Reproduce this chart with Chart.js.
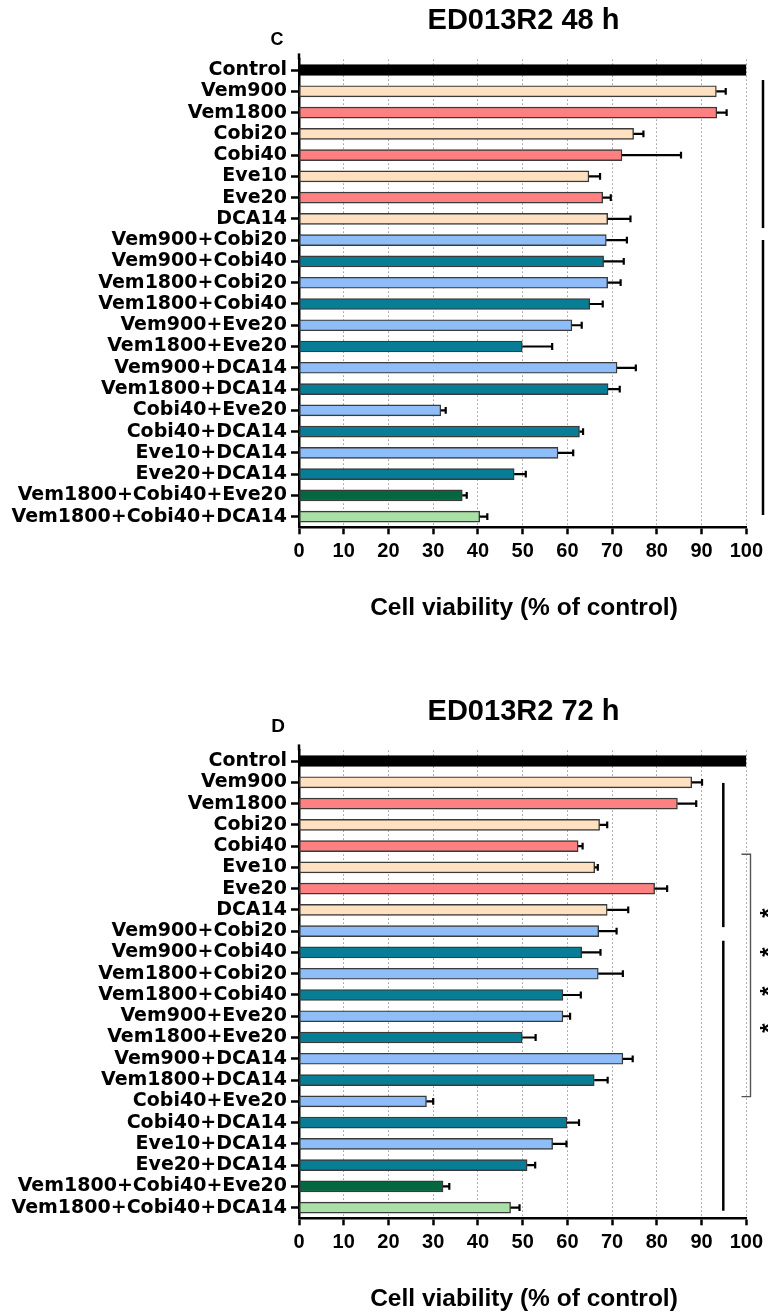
<!DOCTYPE html>
<html><head><meta charset="utf-8">
<script src="https://cdn.jsdelivr.net/npm/chart.js@4.4.1/dist/chart.umd.min.js"></script>
<style>
html,body{margin:0;padding:0;background:#fff;overflow:hidden;}
#wrap{position:relative;width:768px;height:1315px;overflow:hidden;background:#fff;}
canvas{position:absolute;left:0;}
</style></head><body>
<div id="wrap">
<canvas id="c1" width="768" height="691" style="top:0px"></canvas>
<canvas id="c2" width="768" height="691" style="top:691px"></canvas>
</div>
<script>
const categories = ["Control","Vem900","Vem1800","Cobi20","Cobi40","Eve10","Eve20","DCA14",
  "Vem900+Cobi20","Vem900+Cobi40","Vem1800+Cobi20","Vem1800+Cobi40","Vem900+Eve20","Vem1800+Eve20",
  "Vem900+DCA14","Vem1800+DCA14","Cobi40+Eve20","Cobi40+DCA14","Eve10+DCA14","Eve20+DCA14",
  "Vem1800+Cobi40+Eve20","Vem1800+Cobi40+DCA14"];
const values48 = [100, 93.3, 93.4, 74.8, 72.2, 64.8, 67.9, 69.0, 68.7, 68.1, 69.0, 65.0, 61.0, 49.9, 71.1, 69.1, 31.7, 62.7, 57.9, 48.1, 36.5, 40.4];
const errors48 = [0, 2.1, 2.2, 2.2, 13.2, 2.5, 1.8, 5.1, 4.6, 4.5, 2.9, 2.9, 2.2, 6.7, 4.2, 2.6, 1.1, 0.8, 3.4, 2.6, 1.0, 1.7];
const values72 = [100, 87.8, 84.6, 67.2, 62.4, 66.1, 79.5, 68.9, 67.0, 63.2, 66.9, 59.0, 59.0, 49.9, 72.4, 66.0, 28.5, 59.9, 56.7, 51.0, 32.2, 47.3];
const errors72 = [0, 2.3, 4.2, 1.7, 1.0, 0.7, 2.8, 4.7, 4.0, 4.2, 5.5, 4.0, 1.6, 3.0, 2.2, 3.0, 1.5, 2.7, 3.1, 1.8, 1.4, 2.0];
const xMin = 0, xMax = 100, xStep = 10;

const PEACH = '#FFE0C0', SALMON = '#FF8080', LBLUE = '#8EBDF7', TEAL = '#077D96', DGREEN = '#03673F', LGREEN = '#ABDFA8';
const barColors = ['#000000', PEACH, SALMON, PEACH, SALMON, PEACH, SALMON, PEACH,
  LBLUE, TEAL, LBLUE, TEAL, LBLUE, TEAL, LBLUE, TEAL, LBLUE, TEAL, LBLUE, TEAL, DGREEN, LGREEN];
const barBorders = barColors.map((c,i)=> i===0 ? '#000000' : '#3a3a3a');

const overlay = {
  id: 'overlay',
  afterDatasetsDraw(chart, args, opts) {
    const ctx = chart.ctx, xs = chart.scales.x;
    const meta = chart.getDatasetMeta(0);
    const vals = chart.data.datasets[0].data;
    ctx.save();
    ctx.strokeStyle = '#000'; ctx.lineWidth = 2.2;
    meta.data.forEach((bar, i) => {
      const e = opts.errors[i];
      if (!e) return;
      const x1 = xs.getPixelForValue(vals[i] + e);
      ctx.beginPath();
      ctx.moveTo(bar.x, bar.y); ctx.lineTo(x1, bar.y);
      ctx.moveTo(x1, bar.y - 3.4); ctx.lineTo(x1, bar.y + 3.4);
      ctx.stroke();
    });
    ctx.restore();
  },
  afterDraw(chart, args, opts) {
    const ctx = chart.ctx, ys = chart.scales.y, ca = chart.chartArea;
    ctx.save();
    ctx.strokeStyle = '#000'; ctx.lineWidth = 2.5;
    ctx.beginPath(); ctx.moveTo(ca.left, ca.top - 6); ctx.lineTo(ca.left, ca.top); ctx.stroke();
    ctx.fillStyle = '#000'; ctx.textAlign = 'center'; ctx.textBaseline = 'middle';
    ctx.font = 'bold 29px "Liberation Sans", Arial, sans-serif';
    ctx.fillText(opts.title, 523.5, 20.5);
    ctx.font = 'bold ' + opts.letterSize + 'px "Liberation Sans", Arial, sans-serif';
    ctx.fillText(opts.letter, opts.letterPos[0], opts.letterPos[1]);
    ctx.font = 'bold 24.5px "Liberation Sans", Arial, sans-serif';
    ctx.fillText('Cell viability (% of control)', 524, ca.bottom + 81);
    ctx.strokeStyle = '#000'; ctx.lineWidth = 2.5;
    opts.sigLines.forEach(l => {
      ctx.beginPath();
      ctx.moveTo(l.x, ys.getPixelForValue(l.from));
      ctx.lineTo(l.x, ys.getPixelForValue(l.to));
      ctx.stroke();
    });
    if (opts.bracket) {
      const b = opts.bracket;
      const y0 = ys.getPixelForValue(b.from), y1 = ys.getPixelForValue(b.to);
      ctx.strokeStyle = '#555'; ctx.lineWidth = 1.4;
      ctx.beginPath();
      ctx.moveTo(b.x - 9, y0); ctx.lineTo(b.x, y0); ctx.lineTo(b.x, y1); ctx.lineTo(b.x - 9, y1);
      ctx.stroke();
    }
    if (opts.stars) {
      ctx.font = 'bold 24px "Liberation Sans", Arial, sans-serif';
      opts.stars.pos.forEach(f => {
        const y = ys.getPixelForValue(f);
        ctx.save(); ctx.translate(opts.stars.x, y); ctx.rotate(-Math.PI/2);
        ctx.fillText('*', 0, 4); ctx.restore();
      });
    }
    ctx.restore();
  }
};

function makeChart(id, values, errors, ov) {
  return new Chart(document.getElementById(id), {
    type: 'bar',
    data: {
      labels: categories,
      datasets: [{
        data: values,
        backgroundColor: barColors,
        borderColor: barBorders,
        borderWidth: 1.4,
        borderSkipped: false,
        barThickness: 11
      }]
    },
    plugins: [overlay],
    options: {
      indexAxis: 'y',
      responsive: false,
      animation: false,
      events: [],
      layout: { padding: { left: 0, top: 59.4, right: 19, bottom: 691 - 527.3 - 60 } },
      plugins: {
        legend: { display: false },
        tooltip: { enabled: false },
        title: { display: false },
        overlay: Object.assign({ errors: errors }, ov)
      },
      scales: {
        x: {
          type: 'linear', min: xMin, max: xMax,
          ticks: { stepSize: xStep, color: '#000', padding: 5, maxRotation: 0,
                   font: { family: '"Liberation Sans", Arial, sans-serif', weight: 'bold', size: 20 } },
          grid: { color: '#9a9a9a', lineWidth: 1, drawTicks: true, tickLength: 7, tickColor: '#000', tickWidth: 2.5, tickBorderDash: [] },
          border: { display: true, color: '#000', width: 2.5, dash: [1.5, 2.5] },
          afterFit(s) { s.height = 60; }
        },
        y: {
          type: 'category', offset: true, z: 1,
          ticks: { color: '#000', padding: 4, autoSkip: false,
                   font: { family: '"DejaVu Sans", Verdana, sans-serif', weight: 'bold', size: 19 } },
          grid: { display: true, drawOnChartArea: false, drawTicks: true, tickLength: 8, tickColor: '#000', tickWidth: 2.5, offset: false },
          border: { display: true, color: '#000', width: 2.5 },
          afterFit(s) { s.width = 299; }
        }
      }
    }
  });
}

makeChart('c1', values48, errors48, {
  title: 'ED013R2 48 h', letter: 'C', letterSize: 18, letterPos: [277, 40],
  sigLines: [{ x: 763, from: 0.47, to: 7.43 }, { x: 763, from: 7.99, to: 20.92 }]
});
makeChart('c2', values72, errors72, {
  title: 'ED013R2 72 h', letter: 'D', letterSize: 19, letterPos: [278, 35.5],
  sigLines: [{ x: 723.3, from: 1.03, to: 7.81 }, { x: 723.3, from: 8.45, to: 21.15 }],
  bracket: { x: 750.5, from: 4.38, to: 15.78 },
  stars: { x: 766, pos: [7.15, 8.98, 10.82, 12.56] }
});
</script>
</body></html>
